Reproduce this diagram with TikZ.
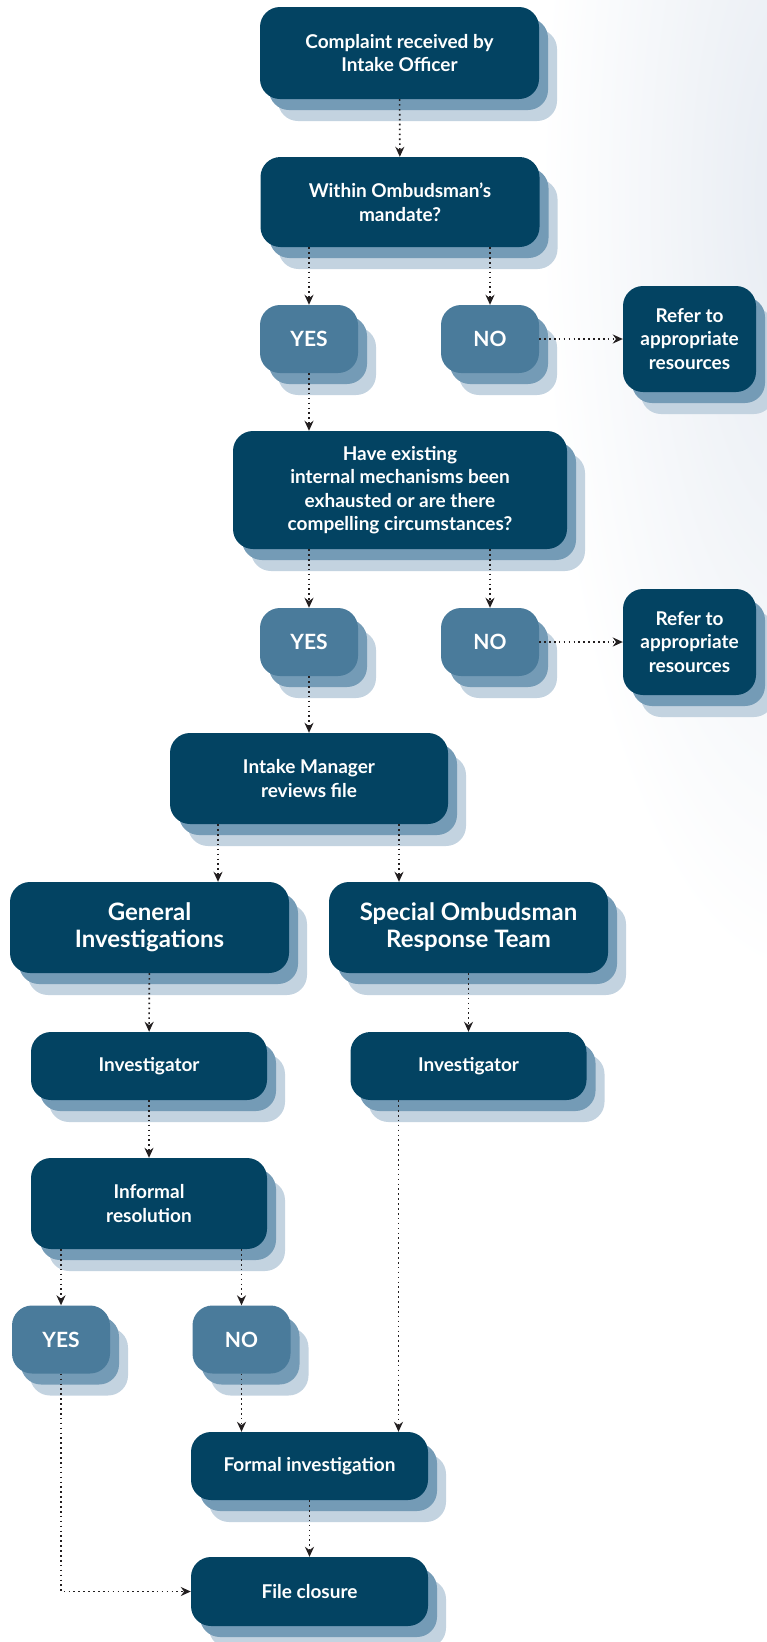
\documentclass[tikz,border=0pt]{standalone}
\usepackage{fontspec}
\setmainfont{Lato}
\usetikzlibrary{arrows.meta,shadows}
\definecolor{boxblue}{RGB}{3,67,98}
\definecolor{choiceblue}{RGB}{74,123,155}
\definecolor{shadeA}{RGB}{116,155,182}
\definecolor{shadeB}{RGB}{195,211,224}
\definecolor{arrowgrey}{RGB}{35,31,32}
\definecolor{tint}{RGB}{230,235,242}

\begin{document}
\begin{tikzpicture}[x=1pt, y=-1pt,
		stage/.style={rounded corners=20pt, fill=boxblue, text=white, align=center, inner sep=0pt,
			font=\bfseries\fontsize{19}{23.5}\selectfont,
			copy shadow={shadow xshift=18pt, shadow yshift=-22pt, fill=shadeB, draw=none},
			copy shadow={shadow xshift=9pt, shadow yshift=-11pt, fill=shadeA, draw=none}},
		choice/.style={stage, fill=choiceblue, minimum width=98pt, minimum height=68pt,
			font=\bfseries\fontsize{21}{24}\selectfont},
		team/.style={stage, minimum width=279pt, minimum height=91pt,
			font=\bfseries\fontsize{24}{27}\selectfont},
		flow/.style={arrowgrey, line width=1.6pt, dash pattern=on 1.6pt off 3.3pt,
			-{Stealth[length=10pt,width=9pt]}}]
			\useasboundingbox (0,0) rectangle (767,1642);

			% Background tint
			\shade[inner color=tint, outer color=white] (800,200) ellipse [x radius=260, y radius=780];

			\node[stage, minimum width=279pt, minimum height=92pt] (compl) at (399.5,53) {Complaint received by\\Intake Officer};
			\node[stage, minimum width=279pt, minimum height=90pt] (mand) at (400,202) {Within Ombudsman’s\\mandate?};

			\node[choice] (yesA) at (309,339) {YES};
			\node[choice] (noA) at (490,339) {NO};
			\node[stage, minimum width=133pt, minimum height=106pt] (referA) at (689.5,339) {Refer to\\appropriate\\resources};

			\node[stage, minimum width=334pt, minimum height=118pt] (exist) at (400,490) {Have existing\\internal mechanisms been\\exhausted or are there\\compelling circumstances?};

			\node[choice] (yesB) at (309,642) {YES};
			\node[choice] (noB) at (490,642) {NO};
			\node[stage, minimum width=133pt, minimum height=106pt] (referB) at (689.5,642) {Refer to\\appropriate\\resources};

			\node[stage, minimum width=278pt, minimum height=91pt] (manager) at (309,778.5) {Intake Manager\\reviews file};

			\node[team] (general) at (149.5,927.5) {General\\Investigations};
			\node[team] (sort) at (468.5,927.5) {Special Ombudsman\\Response Team};

			\node[stage, minimum width=236pt, minimum height=68pt] (invL) at (149,1066) {Investigator};
			\node[stage, minimum width=236pt, minimum height=68pt] (invR) at (468.5,1066) {Investigator};

			\node[stage, minimum width=236pt, minimum height=91pt] (informal) at (149,1203.5) {Informal\\resolution};

			\node[choice] (yesC) at (61,1339.5) {YES};
			\node[choice] (noC) at (241.5,1339.5) {NO};

			\node[stage, minimum width=237pt, minimum height=68pt] (formal) at (309.5,1466) {Formal investigation};
			\node[stage, minimum width=237pt, minimum height=69pt] (closure) at (309.5,1591.5) {File closure};

			% Arrows
			\draw[flow] (compl) -- (mand);
			\draw[flow] (mand.south -| yesA) -- (yesA);
			\draw[flow] (mand.south -| noA) -- (noA);
			\draw[flow] (noA) -- (referA);
			\draw[flow] (yesA) -- (exist.north -| yesA);
			\draw[flow] (exist.south -| yesB) -- (yesB);
			\draw[flow] (exist.south -| noB) -- (noB);
			\draw[flow] (noB) -- (referB);
			\draw[flow] (yesB) -- (manager.north -| yesB);
			\draw[flow] ([xshift=-91pt]manager.south) -- ([xshift=-91pt]manager.south |- general.north);
			\draw[flow] ([xshift=90pt]manager.south) -- ([xshift=90pt]manager.south |- sort.north);
			\draw[flow] (general) -- (invL);
			\draw[flow] (sort) -- (invR);
			\draw[flow] (invL) -- (informal);
			\draw[flow] (informal.south -| yesC) -- (yesC);
			\draw[flow] (informal.south -| noC) -- (noC);
			\draw[flow] (noC) -- (noC |- formal.north);
			\draw[flow] ([xshift=-70pt]invR.south) -- ([xshift=-70pt]invR.south |- formal.north);
			\draw[flow] (formal) -- (closure);
			\draw[flow] (yesC) |- (closure);
		\end{tikzpicture}
\end{document}
